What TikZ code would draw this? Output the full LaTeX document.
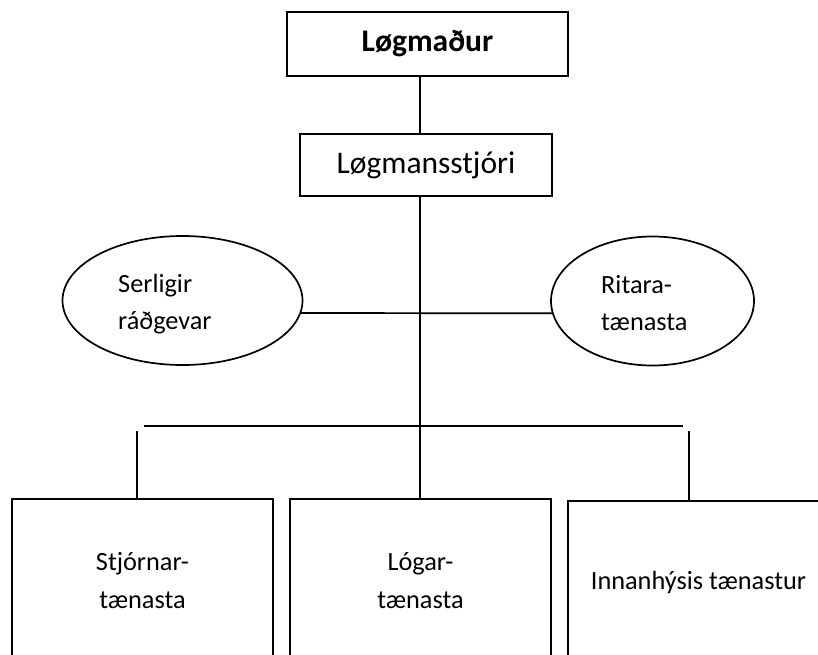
\documentclass[tikz,border=0pt]{standalone}
\usepackage{fontspec}
\setmainfont{Carlito}
\usetikzlibrary{shapes.geometric}
\tikzset{
  ln/.style={line width=1.7pt, line cap=rect},
  topbox/.style={draw, line width=1.7pt, rectangle, inner sep=0pt, font=\fontsize{31.5}{38}\selectfont},
  lowbox/.style={draw, line width=1.7pt, rectangle, inner sep=0pt, minimum width=261pt, minimum height=163pt},
  oval/.style={draw, line width=1.7pt, ellipse, inner sep=0pt},
  lbl/.style={inner sep=0pt, font=\fontsize{26.3}{37.5}\selectfont},
}
\begin{document}
\begin{tikzpicture}[x=1pt,y=-1pt]
\useasboundingbox (0,0) rectangle (818,654);
\fill[white] (0,0) rectangle (818,654);
\clip (0,0) rectangle (818,654);
% top boxes
\node[topbox, minimum width=281pt, minimum height=64pt] (b1) at (427.5,44) {\textbf{Løgmaður}};
\node[topbox, minimum width=252pt, minimum height=62pt] (b2) at (426,165) {Løgmansstjóri};
% ellipses
\node[oval, minimum width=240pt, minimum height=129pt] (eL) at (182.5,300.5) {};
\node[oval, minimum width=203pt, minimum height=129pt] (eR) at (652.5,301) {};
\node[lbl, anchor=west, align=left] (tL) at (118,304) {Serligir\\ráðgevar};
\node[lbl, anchor=west, align=left] (tR) at (601,303) {Ritara-\\tænasta};
% bottom boxes
\node[lowbox] (bA) at (142.5,580.5) {};
\node[lowbox] (bB) at (420.5,580.5) {};
\node[lowbox] (bC) at (698.5,582.5) {};
\node[lbl, align=center] (tA) at (bA.center) {Stjórnar-\\tænasta};
\node[lbl, align=center] (tB) at (bB.center) {Lógar-\\tænasta};
\node[lbl, align=center] (tC) at (bC.center) {Innanhýsis tænastur};
% connectors
\coordinate (vx) at (420,0);
\draw[ln] (vx |- b1.south) -- (vx |- b2.north);
\draw[ln] (vx |- b2.south) -- (vx |- bB.north);
\draw[ln] (eL.-6) -- (eR.-173);
\coordinate (barL) at (145,426);
\coordinate (barR) at (682,426);
\draw[ln] (barL) -- (barR);
\coordinate (dA) at (137,432);
\coordinate (dC) at (689,432);
\draw[ln] (dA) -- (dA |- bA.north);
\draw[ln] (dC) -- (dC |- bC.north);
\end{tikzpicture}
\end{document}
